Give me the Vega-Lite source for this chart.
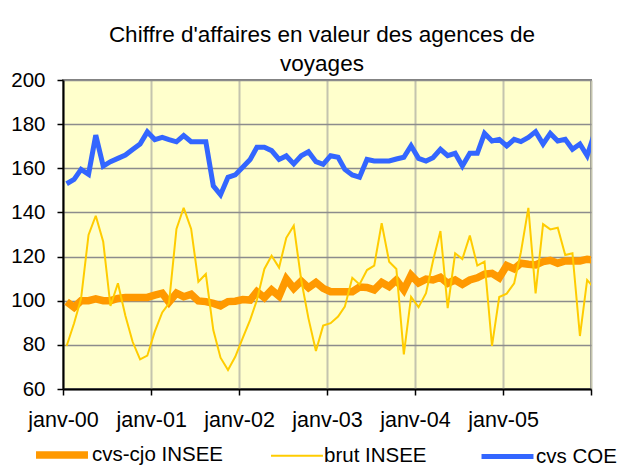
{
  "$schema": "https://vega.github.io/schema/vega-lite/v6.json",
  "autosize": "none",
  "width": 528,
  "height": 309,
  "padding": {"left": 63, "top": 80, "right": 38, "bottom": 83},
  "background": "white",
  "title": {
    "text": ["Chiffre d'affaires en valeur des agences de", "voyages"],
    "font": "Liberation Sans",
    "fontSize": 22.5,
    "fontWeight": "normal",
    "color": "black",
    "anchor": "middle",
    "lineHeight": 29,
    "offset": -5,
    "dx": -5
  },
  "data": {
    "values": [
      {"d": "2000-01-16", "cvs-cjo INSEE": 99.5, "brut INSEE": 79.5, "cvs COE": 153},
      {"d": "2000-02-16", "cvs-cjo INSEE": 97, "brut INSEE": 89.8, "cvs COE": 155},
      {"d": "2000-03-16", "cvs-cjo INSEE": 100, "brut INSEE": 101, "cvs COE": 159.5},
      {"d": "2000-04-16", "cvs-cjo INSEE": 100, "brut INSEE": 129.8, "cvs COE": 157.3},
      {"d": "2000-05-16", "cvs-cjo INSEE": 100.8, "brut INSEE": 138.5, "cvs COE": 175},
      {"d": "2000-06-16", "cvs-cjo INSEE": 100, "brut INSEE": 126.7, "cvs COE": 161},
      {"d": "2000-07-16", "cvs-cjo INSEE": 100, "brut INSEE": 97.6, "cvs COE": 163},
      {"d": "2000-08-16", "cvs-cjo INSEE": 101, "brut INSEE": 107.9, "cvs COE": 164.5},
      {"d": "2000-09-16", "cvs-cjo INSEE": 101.5, "brut INSEE": 93.2, "cvs COE": 166},
      {"d": "2000-10-16", "cvs-cjo INSEE": 101.5, "brut INSEE": 81.4, "cvs COE": 168.5},
      {"d": "2000-11-16", "cvs-cjo INSEE": 101.5, "brut INSEE": 73.4, "cvs COE": 171},
      {"d": "2000-12-16", "cvs-cjo INSEE": 101.5, "brut INSEE": 75.1, "cvs COE": 176.5},
      {"d": "2001-01-16", "cvs-cjo INSEE": 102.5, "brut INSEE": 86, "cvs COE": 173},
      {"d": "2001-02-16", "cvs-cjo INSEE": 103.4, "brut INSEE": 94.7, "cvs COE": 174},
      {"d": "2001-03-16", "cvs-cjo INSEE": 99.3, "brut INSEE": 98.8, "cvs COE": 173},
      {"d": "2001-04-16", "cvs-cjo INSEE": 103.4, "brut INSEE": 132.5, "cvs COE": 172},
      {"d": "2001-05-16", "cvs-cjo INSEE": 101.8, "brut INSEE": 142.1, "cvs COE": 174.8},
      {"d": "2001-06-16", "cvs-cjo INSEE": 102.9, "brut INSEE": 132.5, "cvs COE": 172},
      {"d": "2001-07-16", "cvs-cjo INSEE": 99.9, "brut INSEE": 108.6, "cvs COE": 172},
      {"d": "2001-08-16", "cvs-cjo INSEE": 99.6, "brut INSEE": 112.1, "cvs COE": 172},
      {"d": "2001-09-16", "cvs-cjo INSEE": 98.8, "brut INSEE": 86.7, "cvs COE": 152},
      {"d": "2001-10-16", "cvs-cjo INSEE": 97.7, "brut INSEE": 74.2, "cvs COE": 148},
      {"d": "2001-11-16", "cvs-cjo INSEE": 99.6, "brut INSEE": 68.6, "cvs COE": 155.9},
      {"d": "2001-12-16", "cvs-cjo INSEE": 99.8, "brut INSEE": 74.6, "cvs COE": 157},
      {"d": "2002-01-16", "cvs-cjo INSEE": 100.5, "brut INSEE": 83, "cvs COE": 160.5},
      {"d": "2002-02-16", "cvs-cjo INSEE": 100.3, "brut INSEE": 91.3, "cvs COE": 164},
      {"d": "2002-03-16", "cvs-cjo INSEE": 104.1, "brut INSEE": 100.3, "cvs COE": 169.5},
      {"d": "2002-04-16", "cvs-cjo INSEE": 101.4, "brut INSEE": 114.4, "cvs COE": 169.5},
      {"d": "2002-05-16", "cvs-cjo INSEE": 104.9, "brut INSEE": 120.4, "cvs COE": 168},
      {"d": "2002-06-16", "cvs-cjo INSEE": 102.1, "brut INSEE": 115, "cvs COE": 164},
      {"d": "2002-07-16", "cvs-cjo INSEE": 109.8, "brut INSEE": 128.5, "cvs COE": 165.6},
      {"d": "2002-08-16", "cvs-cjo INSEE": 105.6, "brut INSEE": 134, "cvs COE": 162},
      {"d": "2002-09-16", "cvs-cjo INSEE": 108.9, "brut INSEE": 109.4, "cvs COE": 165.7},
      {"d": "2002-10-16", "cvs-cjo INSEE": 105.9, "brut INSEE": 92, "cvs COE": 167.5},
      {"d": "2002-11-16", "cvs-cjo INSEE": 108.3, "brut INSEE": 77.2, "cvs COE": 163},
      {"d": "2002-12-16", "cvs-cjo INSEE": 105.6, "brut INSEE": 88.7, "cvs COE": 161.8},
      {"d": "2003-01-16", "cvs-cjo INSEE": 104.1, "brut INSEE": 89.8, "cvs COE": 165.7},
      {"d": "2003-02-16", "cvs-cjo INSEE": 104.1, "brut INSEE": 92.8, "cvs COE": 165},
      {"d": "2003-03-16", "cvs-cjo INSEE": 104.1, "brut INSEE": 97.3, "cvs COE": 159.5},
      {"d": "2003-04-16", "cvs-cjo INSEE": 104.1, "brut INSEE": 110.4, "cvs COE": 157},
      {"d": "2003-05-16", "cvs-cjo INSEE": 106.2, "brut INSEE": 107.4, "cvs COE": 156},
      {"d": "2003-06-16", "cvs-cjo INSEE": 106, "brut INSEE": 113.9, "cvs COE": 164},
      {"d": "2003-07-16", "cvs-cjo INSEE": 104.9, "brut INSEE": 115.9, "cvs COE": 163.3},
      {"d": "2003-08-16", "cvs-cjo INSEE": 108.3, "brut INSEE": 135.1, "cvs COE": 163.3},
      {"d": "2003-09-16", "cvs-cjo INSEE": 106.4, "brut INSEE": 117.7, "cvs COE": 163.3},
      {"d": "2003-10-16", "cvs-cjo INSEE": 109.4, "brut INSEE": 114.4, "cvs COE": 164.2},
      {"d": "2003-11-16", "cvs-cjo INSEE": 104.9, "brut INSEE": 75.7, "cvs COE": 165},
      {"d": "2003-12-16", "cvs-cjo INSEE": 111.6, "brut INSEE": 101.7, "cvs COE": 170.2},
      {"d": "2004-01-16", "cvs-cjo INSEE": 108.1, "brut INSEE": 97.1, "cvs COE": 164.5},
      {"d": "2004-02-16", "cvs-cjo INSEE": 109.8, "brut INSEE": 103.4, "cvs COE": 163.3},
      {"d": "2004-03-16", "cvs-cjo INSEE": 109.4, "brut INSEE": 118, "cvs COE": 164.8},
      {"d": "2004-04-16", "cvs-cjo INSEE": 110.6, "brut INSEE": 131.6, "cvs COE": 168.6},
      {"d": "2004-05-16", "cvs-cjo INSEE": 107.9, "brut INSEE": 96.6, "cvs COE": 165.7},
      {"d": "2004-06-16", "cvs-cjo INSEE": 109.4, "brut INSEE": 121.5, "cvs COE": 166.8},
      {"d": "2004-07-16", "cvs-cjo INSEE": 107.4, "brut INSEE": 118.9, "cvs COE": 161},
      {"d": "2004-08-16", "cvs-cjo INSEE": 109.4, "brut INSEE": 129.5, "cvs COE": 166.8},
      {"d": "2004-09-16", "cvs-cjo INSEE": 110.4, "brut INSEE": 115.9, "cvs COE": 166.8},
      {"d": "2004-10-16", "cvs-cjo INSEE": 112, "brut INSEE": 117.7, "cvs COE": 175.8},
      {"d": "2004-11-16", "cvs-cjo INSEE": 112.4, "brut INSEE": 79.5, "cvs COE": 172.4},
      {"d": "2004-12-16", "cvs-cjo INSEE": 110.4, "brut INSEE": 101.7, "cvs COE": 173.1},
      {"d": "2005-01-16", "cvs-cjo INSEE": 115.9, "brut INSEE": 103.2, "cvs COE": 170.1},
      {"d": "2005-02-16", "cvs-cjo INSEE": 114.4, "brut INSEE": 107.9, "cvs COE": 173.1},
      {"d": "2005-03-16", "cvs-cjo INSEE": 117, "brut INSEE": 122, "cvs COE": 172.1},
      {"d": "2005-04-16", "cvs-cjo INSEE": 116.5, "brut INSEE": 142.1, "cvs COE": 174},
      {"d": "2005-05-16", "cvs-cjo INSEE": 116.2, "brut INSEE": 103.3, "cvs COE": 176.6},
      {"d": "2005-06-16", "cvs-cjo INSEE": 117.7, "brut INSEE": 134.7, "cvs COE": 171},
      {"d": "2005-07-16", "cvs-cjo INSEE": 118.3, "brut INSEE": 132.3, "cvs COE": 175.8},
      {"d": "2005-08-16", "cvs-cjo INSEE": 117, "brut INSEE": 133.1, "cvs COE": 172.4},
      {"d": "2005-09-16", "cvs-cjo INSEE": 118, "brut INSEE": 120.7, "cvs COE": 173.1},
      {"d": "2005-10-16", "cvs-cjo INSEE": 118, "brut INSEE": 121.5, "cvs COE": 168.6},
      {"d": "2005-11-16", "cvs-cjo INSEE": 118, "brut INSEE": 84, "cvs COE": 171},
      {"d": "2005-12-16", "cvs-cjo INSEE": 118.8, "brut INSEE": 109.4, "cvs COE": 165.7},
      {"d": "2006-01-16", "cvs-cjo INSEE": 118.3, "brut INSEE": 105.5, "cvs COE": 176}
    ]
  },
  "transform": [
    {"fold": ["cvs-cjo INSEE", "brut INSEE", "cvs COE"], "as": ["series", "value"]}
  ],
  "mark": {"type": "line", "clip": true, "strokeJoin": "miter", "strokeMiterLimit": 3},
  "encoding": {
    "x": {
      "field": "d",
      "type": "temporal",
      "scale": {
        "type": "utc",
        "domain": [
          {"year": 2000, "month": 1, "date": 1, "utc": true},
          {"year": 2006, "month": 1, "date": 1, "utc": true}
        ]
      },
      "axis": {
        "title": null,
        "values": [
          {"year": 2000, "month": 1, "date": 1, "utc": true},
          {"year": 2001, "month": 1, "date": 1, "utc": true},
          {"year": 2002, "month": 1, "date": 1, "utc": true},
          {"year": 2003, "month": 1, "date": 1, "utc": true},
          {"year": 2004, "month": 1, "date": 1, "utc": true},
          {"year": 2005, "month": 1, "date": 1, "utc": true},
          {"year": 2006, "month": 1, "date": 1, "utc": true}
        ],
        "labelExpr": "utcyear(datum.value) < 2006 ? 'janv-' + utcFormat(datum.value, '%y') : ''",
        "labelFont": "Liberation Sans",
        "labelFontSize": 21.5,
        "labelColor": "black",
        "labelPadding": 14,
        "labelFlush": false,
        "labelOverlap": false,
        "labelDx": 3,
        "tickSize": 6,
        "tickColor": "black",
        "tickWidth": 1.5,
        "domainColor": "black",
        "domainWidth": 2,
        "grid": true,
        "gridColor": "#C4C4AE",
        "gridWidth": 2
      }
    },
    "y": {
      "field": "value",
      "type": "quantitative",
      "scale": {"domain": [60, 200], "nice": false, "zero": false},
      "axis": {
        "title": null,
        "values": [60, 80, 100, 120, 140, 160, 180, 200],
        "labelFont": "Liberation Sans",
        "labelFontSize": 20.5,
        "labelColor": "black",
        "labelPadding": 12,
        "tickSize": 6,
        "tickColor": "black",
        "tickWidth": 1.5,
        "domainColor": "black",
        "domainWidth": 2,
        "grid": true,
        "gridColor": "#8C8C8C",
        "gridWidth": 1.5
      }
    },
    "color": {
      "field": "series",
      "type": "nominal",
      "scale": {
        "domain": ["cvs-cjo INSEE", "brut INSEE", "cvs COE"],
        "range": ["#FF9900", "#FFCC00", "#3366FF"]
      },
      "legend": {
        "title": null,
        "orient": "none",
        "legendX": -31,
        "legendY": 345,
        "direction": "horizontal",
        "symbolType": "stroke",
        "symbolSize": 2700,
        "labelFont": "Liberation Sans",
        "labelFontSize": 20.5,
        "labelColor": "black",
        "labelOffset": 0,
        "columnPadding": 44
      }
    },
    "strokeWidth": {
      "field": "series",
      "type": "nominal",
      "scale": {
        "type": "ordinal",
        "domain": ["cvs-cjo INSEE", "brut INSEE", "cvs COE"],
        "range": [7.5, 2, 5]
      },
      "legend": null
    }
  },
  "config": {
    "view": {"fill": "#FFFFCC", "stroke": "#808080", "strokeWidth": 2}
  }
}
